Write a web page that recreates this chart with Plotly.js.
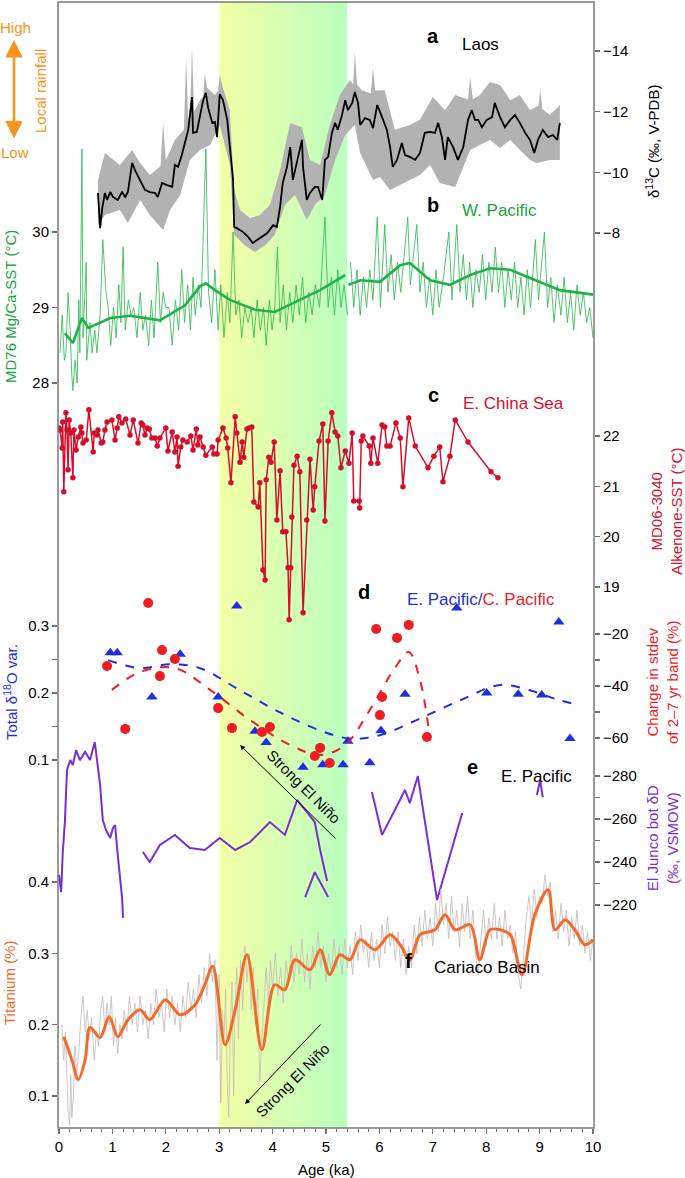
<!DOCTYPE html>
<html><head><meta charset="utf-8">
<script src="https://cdn.plot.ly/plotly-3.0.1.min.js"></script>
<style>html,body{margin:0;padding:0;background:#fff}#chart{width:685px;height:1178px}</style>
</head><body><div id="chart"></div>
<script>
// ---------- a: Laos d13C ----------
const laosAge = [0.73,0.77,0.81,0.86,0.90,0.96,1.01,1.10,1.18,1.24,1.29,1.37,1.42,1.52,1.61,1.70,1.80,1.85,1.93,2.02,2.12,2.17,2.23,2.30,2.36,2.42,2.49,2.51,2.58,2.64,2.70,2.75,2.79,2.87,2.92,2.96,3.01,3.07,3.15,3.20,3.26,3.28,3.33,3.45,3.54,3.63,3.71,3.80,3.90,4.01,4.08,4.14,4.19,4.27,4.33,4.38,4.46,4.55,4.57,4.64,4.70,4.79,4.85,4.93,4.98,5.04,5.11,5.17,5.22,5.30,5.36,5.41,5.49,5.54,5.60,5.64,5.73,5.82,5.88,5.96,6.05,6.14,6.20,6.25,6.33,6.42,6.48,6.57,6.67,6.76,6.85,6.95,7.04,7.10,7.17,7.23,7.28,7.38,7.47,7.57,7.66,7.73,7.79,7.85,7.92,8.01,8.11,8.16,8.26,8.35,8.45,8.54,8.63,8.73,8.82,8.90,8.97,9.06,9.16,9.25,9.33,9.38];
const laosD13C = [-9.32,-8.16,-8.82,-9.32,-9.09,-9.35,-9.19,-9.09,-9.35,-9.19,-9.35,-10.31,-10.08,-9.75,-9.42,-9.35,-9.32,-9.19,-9.65,-9.58,-9.52,-10.24,-10.18,-10.57,-10.97,-11.40,-12.48,-11.30,-11.33,-11.82,-12.38,-12.62,-12.15,-11.63,-11.66,-11.16,-12.58,-12.38,-11.73,-10.83,-9.75,-8.20,-8.16,-8.03,-7.87,-7.67,-7.77,-7.87,-8.00,-8.26,-8.20,-8.86,-9.65,-10.18,-10.83,-9.75,-10.41,-11.07,-10.18,-9.09,-9.32,-9.52,-9.52,-9.09,-10.41,-10.51,-11.30,-11.63,-11.40,-11.89,-12.38,-12.05,-12.29,-12.65,-12.29,-11.56,-11.79,-11.73,-11.46,-12.22,-11.82,-11.40,-10.83,-10.18,-10.41,-10.97,-10.57,-10.51,-10.41,-10.64,-11.30,-11.33,-11.30,-11.63,-11.16,-10.41,-11.16,-10.83,-10.41,-10.83,-11.73,-12.05,-11.73,-11.73,-11.49,-11.73,-11.82,-12.29,-11.82,-11.49,-11.73,-11.89,-11.63,-11.30,-11.07,-10.64,-11.07,-11.40,-11.16,-11.23,-11.07,-11.63];
const bandHiAge = [0.73,0.86,1.14,1.37,1.52,1.70,1.90,1.95,2.00,2.17,2.34,2.38,2.42,2.46,2.49,2.53,2.64,2.70,2.73,2.77,2.92,2.98,3.01,3.05,3.20,3.28,3.39,3.58,3.76,3.95,4.14,4.33,4.55,4.70,4.89,5.07,5.26,5.45,5.51,5.54,5.58,5.67,5.84,5.88,5.92,6.10,6.29,6.57,6.76,7.00,7.23,7.42,7.66,7.70,7.75,7.88,8.07,8.26,8.45,8.63,8.82,8.98,9.01,9.05,9.19,9.38];
const bandHi = [-9.75,-10.64,-10.24,-10.74,-10.31,-9.91,-10.2,-11.63,-10.4,-11.07,-11.4,-13.80,-11.7,-12.2,-14.13,-12.0,-12.38,-12.5,-13.27,-12.8,-12.55,-12.7,-13.21,-12.9,-12.05,-9.42,-8.76,-8.49,-8.59,-8.92,-10.08,-11.63,-11.49,-10.41,-10.24,-11.56,-12.55,-13.04,-12.9,-13.97,-12.9,-12.71,-12.6,-13.47,-12.7,-12.71,-11.40,-11.56,-11.73,-12.48,-12.05,-12.55,-12.4,-13.14,-12.4,-12.55,-12.98,-12.88,-12.38,-12.55,-12.05,-12.2,-12.71,-12.1,-11.89,-12.22];
const bandLoAge = [0.73,0.86,1.14,1.29,1.52,1.70,1.95,2.08,2.27,2.45,2.64,2.83,3.01,3.20,3.28,3.48,3.67,3.86,4.04,4.23,4.42,4.64,4.79,4.98,5.17,5.36,5.54,5.64,5.88,6.01,6.20,6.39,6.57,6.76,6.95,7.13,7.42,7.70,7.88,8.07,8.26,8.45,8.63,8.82,8.95,9.19,9.38];
const bandLo = [-8.26,-8.59,-8.76,-8.33,-9.09,-8.59,-8.10,-8.76,-9.25,-10.41,-10.74,-10.90,-11.56,-10.24,-7.93,-7.60,-7.37,-7.60,-7.93,-8.92,-9.25,-8.43,-8.92,-9.25,-10.41,-11.23,-11.56,-10.64,-9.75,-9.85,-9.42,-9.58,-9.75,-9.91,-10.24,-9.65,-9.52,-10.74,-10.90,-11.07,-10.80,-11.07,-10.74,-10.41,-10.31,-10.41,-10.41];

// ---------- b: W. Pacific MD76 Mg/Ca SST ----------
const wpRawAge = [0.02,0.06,0.10,0.13,0.17,0.21,0.24,0.26,0.30,0.34,0.37,0.39,0.43,0.45,0.51,0.52,0.58,0.62,0.67,0.71,0.77,0.82,0.88,0.92,0.97,1.02,1.07,1.12,1.16,1.20,1.24,1.30,1.35,1.40,1.46,1.52,1.57,1.62,1.68,1.73,1.78,1.85,1.90,1.95,2.00,2.06,2.12,2.18,2.24,2.30,2.35,2.41,2.46,2.51,2.55,2.61,2.66,2.75,2.80,2.86,2.92,2.98,3.03,3.09,3.15,3.20,3.26,3.31,3.37,3.42,3.48,3.54,3.60,3.65,3.71,3.77,3.83,3.88,3.94,3.99,4.04,4.09,4.14,4.20,4.26,4.32,4.38,4.44,4.50,4.56,4.62,4.68,4.74,4.80,4.88,4.98,5.04,5.10,5.16,5.22,5.28,5.34,5.40,null,5.46,5.52,5.58,5.64,5.70,5.76,5.82,5.88,5.96,6.02,6.10,6.16,6.22,6.28,6.34,6.40,6.53,6.58,6.70,6.76,6.82,6.88,6.94,7.00,7.06,7.12,7.20,7.30,7.36,7.45,7.51,7.57,7.63,7.69,7.75,7.81,7.87,7.93,7.99,8.05,8.11,8.17,8.23,8.29,8.35,8.41,8.47,8.53,8.59,8.65,8.71,8.77,8.83,8.92,8.98,9.09,9.15,9.21,9.27,9.33,9.40,9.46,9.52,9.58,9.64,9.70,9.76,9.82,9.88,9.94,10.0];
const wpRawSST = [28.4,28.9,28.3,28.4,29.2,28.7,28.1,27.9,28.3,28.0,29.1,28.4,31.1,28.6,29.6,28.3,28.8,28.4,28.7,28.4,28.9,29.9,29.2,29.0,28.5,29.0,28.6,29.3,28.8,29.8,28.7,29.1,28.9,29.0,28.6,29.2,28.7,28.9,28.5,29.1,28.6,29.6,28.8,29.2,29.0,29.0,28.5,29.1,28.7,29.5,28.8,29.3,28.7,29.4,28.9,29.3,29.0,31.1,29.2,28.8,29.5,28.7,29.3,28.6,29.2,28.8,30.0,28.9,29.1,28.6,29.0,28.8,29.0,28.6,29.1,28.7,29.0,28.5,29.1,28.7,29.0,29.8,28.8,29.3,28.7,29.2,28.8,29.3,28.9,29.4,28.8,29.2,28.9,29.3,29.0,30.2,29.0,29.4,28.9,29.5,29.0,29.3,28.9,null,29.6,29.0,29.5,28.9,29.4,29.0,29.5,29.1,30.2,29.0,30.1,29.2,29.7,29.1,29.6,29.2,30.2,29.3,30.1,29.2,29.6,29.0,29.4,28.9,29.5,29.0,29.4,30.0,29.1,30.1,29.2,29.7,29.1,29.6,29.0,29.5,29.2,29.7,29.1,29.6,29.2,29.8,29.2,29.6,29.0,29.5,29.1,29.6,29.0,29.4,28.9,29.5,29.0,29.9,29.1,30.0,29.0,29.4,28.8,29.3,28.9,29.4,28.8,29.2,28.7,29.3,28.9,29.2,28.8,29.0,28.6];
const wpSmAge = [0.11,0.26,0.43,0.55,0.96,1.33,1.89,2.36,2.64,2.75,2.92,3.20,3.67,4.04,4.51,4.89,5.36,null,5.42,5.64,6.01,6.39,6.57,6.95,7.32,7.70,8.07,8.45,8.82,9.38,10.0];
const wpSmSST = [28.66,28.53,28.86,28.73,28.86,28.89,28.83,29.03,29.28,29.32,29.23,29.10,28.97,28.94,29.10,29.23,29.43,null,29.30,29.36,29.34,29.56,29.59,29.36,29.30,29.43,29.52,29.50,29.39,29.23,29.17];

// ---------- c: E. China Sea MD06-3040 alkenone SST ----------
const ecsAge = [0.00,0.02,0.06,0.07,0.09,0.13,0.15,0.17,0.19,0.22,0.26,0.28,0.32,0.36,0.41,0.43,0.45,0.51,0.56,0.64,0.66,0.71,0.73,0.79,0.82,0.86,0.90,0.99,1.05,1.09,1.12,1.18,1.25,1.33,1.39,1.48,1.54,1.57,1.61,1.65,1.69,1.74,1.80,1.84,1.89,2.00,2.04,2.12,2.17,2.21,2.23,2.28,2.32,2.40,2.47,2.51,2.57,2.60,2.64,2.70,2.75,2.87,2.90,2.96,2.98,3.07,3.13,3.16,3.22,3.30,3.33,3.39,3.43,3.46,3.52,3.56,3.61,3.65,3.73,3.76,3.82,3.86,3.88,3.93,3.97,4.03,4.08,4.14,4.19,4.25,4.29,4.31,4.34,4.36,4.40,4.46,4.51,4.57,4.64,4.70,4.76,4.79,4.87,4.94,4.98,5.04,5.11,5.17,5.22,5.28,5.36,5.43,5.49,5.52,5.62,5.63,5.66,5.69,5.81,5.84,5.88,5.97,6.05,6.10,6.14,6.20,6.31,6.39,6.44,6.55,6.67,6.91,7.02,7.13,7.19,7.32,7.42,7.66,8.09,8.22];
const ecsSST = [22.16,22.12,21.76,22.28,20.89,22.46,22.12,21.33,22.32,22.06,21.17,22.12,21.72,21.98,22.18,22.06,21.86,21.92,22.52,21.68,22.06,22.02,22.12,21.86,21.88,22.12,22.28,22.32,21.92,22.16,22.38,22.26,22.34,22.02,22.32,21.86,22.26,22.22,22.02,22.16,22.14,21.96,21.96,21.80,21.96,22.16,21.70,22.08,21.68,21.98,21.40,21.78,21.92,21.88,22.00,21.72,22.14,21.82,21.98,21.78,21.62,21.78,21.64,21.64,21.92,22.16,21.96,21.76,21.07,22.38,22.06,21.48,21.88,21.58,22.14,22.16,22.18,20.69,20.59,21.07,19.34,19.14,21.13,21.58,21.48,21.88,20.33,21.31,20.10,20.10,19.38,18.35,19.38,20.39,21.42,21.60,21.29,18.49,20.33,21.54,20.53,20.99,21.90,22.24,20.31,21.90,22.46,22.08,22.00,21.37,21.70,21.46,22.06,20.71,20.71,20.57,21.90,22.00,21.80,21.46,21.96,21.46,22.22,22.18,21.80,21.80,22.26,21.96,20.99,22.36,21.80,21.37,21.60,21.78,21.09,21.60,22.32,21.88,21.29,21.17];

// ---------- d: ENSO variance ----------
const epAge = [0.96,1.09,1.74,2.27,2.98,3.33,3.67,3.88,4.57,4.94,5.32,5.41,5.82,6.03,6.48,7.45,8.01,8.60,9.04,9.36,9.57];
const epVar = [0.260,0.260,0.194,0.258,0.194,0.330,0.143,0.126,0.089,0.093,0.093,0.128,0.096,0.144,0.198,0.327,0.200,0.198,0.197,0.306,0.132];
const cpAge = [0.90,1.24,1.67,1.89,1.93,2.17,2.98,3.24,3.80,3.95,4.79,4.89,5.07,5.94,6.05,6.01,6.33,6.55,6.89];
const cpChange = [-32.3,-56.5,-8.1,-36.2,-26.2,-29.6,-48.5,-56.2,-57.7,-55.8,-66.9,-63.8,-69.6,-18.1,-44.2,-51.2,-21.5,-16.5,-59.6];
const epFitAge = [0.92,1.52,2.08,2.64,3.39,4.14,4.89,5.45,6.01,6.76,7.51,8.26,8.82,9.38,9.76];
const epFit = [0.249,0.237,0.243,0.237,0.204,0.171,0.144,0.132,0.137,0.162,0.189,0.212,0.204,0.189,0.182];
const cpFitAge = [0.99,1.52,2.17,2.83,3.58,4.33,4.89,5.36,5.82,6.29,6.55,6.76,6.95];
const cpFit = [-41.5,-34.6,-33.1,-41.5,-53.1,-62.7,-66.5,-62.7,-49.2,-33.1,-26.9,-37.7,-60.8];

// ---------- e: El Junco botryococcene dD ----------
const ejAge = [0.00,0.04,0.07,0.11,0.15,0.21,0.26,0.32,0.39,0.49,0.58,0.67,0.77,0.82,0.88,0.96,1.01,1.05,1.10,1.18,1.20,null,1.57,1.70,1.89,2.17,2.45,2.73,3.01,3.30,3.58,3.95,4.23,4.46,4.64,4.79,4.89,5.02,null,4.61,4.79,5.04,null,5.86,6.05,6.29,6.48,6.57,6.72,7.08,7.55,null,8.95,9.01,9.06];
const ejDD = [-234.0,-226.0,-244.2,-258.6,-282.8,-287.4,-285.1,-292.1,-287.4,-291.2,-287.4,-295.8,-275.8,-259.5,-254.9,-251.2,-255.8,-257.2,-243.3,-223.7,-214.0,null,-244.7,-240.0,-247.9,-252.6,-246.5,-245.6,-251.2,-245.6,-249.3,-258.6,-252.6,-268.8,-263.3,-258.6,-245.6,-231.2,null,-223.7,-235.3,-223.7,null,-272.6,-252.6,-264.2,-273.5,-267.4,-280.0,-222.3,-262.8,null,-271.2,-278.1,-270.2];

// ---------- f: Cariaco Basin titanium ----------
const tiRawAge = [0.05,0.09,0.12,0.15,0.17,0.20,0.22,0.24,0.27,0.30,0.33,0.37,0.41,0.45,0.49,0.53,0.57,0.61,0.66,0.70,0.74,0.78,0.82,0.86,0.90,0.94,0.98,1.02,1.06,1.10,1.14,1.18,1.22,1.27,1.32,1.37,1.42,1.47,1.52,1.57,1.62,1.67,1.72,1.77,1.82,1.87,1.92,1.97,2.02,2.07,2.12,2.17,2.22,2.27,2.32,2.37,2.42,2.47,2.52,2.57,2.62,2.67,2.72,2.77,2.82,2.87,2.92,2.96,3.00,3.03,3.06,3.09,3.12,3.15,3.18,3.21,3.24,3.27,3.30,3.33,3.36,3.40,3.44,3.48,3.52,3.56,3.60,3.64,3.68,3.72,3.76,3.80,3.84,3.88,3.92,3.96,4.00,4.05,4.10,4.15,4.20,4.25,4.30,4.35,4.40,4.45,4.50,4.55,4.60,4.65,4.70,4.75,4.80,4.85,4.90,4.95,5.00,5.05,5.10,5.15,5.20,5.25,5.30,5.35,5.40,5.45,5.50,5.55,5.60,5.65,5.70,5.75,5.80,5.85,5.90,5.95,6.00,6.05,6.10,6.15,6.20,6.25,6.30,6.35,6.40,6.45,6.50,6.55,6.60,6.65,6.70,6.75,6.80,6.85,6.90,6.95,7.00,7.05,7.10,7.15,7.20,7.25,7.30,7.35,7.40,7.45,7.50,7.55,7.60,7.65,7.70,7.75,7.80,7.85,7.90,7.95,8.00,8.05,8.10,8.15,8.20,8.25,8.30,8.35,8.40,8.45,8.50,8.55,8.60,8.65,8.70,8.75,8.80,8.85,8.90,8.95,9.00,9.05,9.10,9.15,9.20,9.25,9.30,9.35,9.40,9.45,9.50,9.55,9.60,9.65,9.70,9.75,9.80,9.85,9.90,9.95,10.0];
const tiRaw = [0.20,0.15,0.19,0.13,0.08,0.06,0.13,0.07,0.10,0.17,0.13,0.16,0.21,0.24,0.19,0.22,0.18,0.21,0.15,0.19,0.17,0.22,0.24,0.19,0.23,0.20,0.24,0.17,0.21,0.16,0.20,0.18,0.22,0.19,0.24,0.20,0.23,0.19,0.24,0.20,0.22,0.18,0.23,0.20,0.25,0.21,0.23,0.19,0.25,0.21,0.24,0.20,0.23,0.19,0.24,0.21,0.26,0.22,0.25,0.21,0.27,0.23,0.28,0.24,0.30,0.26,0.29,0.15,0.27,0.09,0.22,0.18,0.25,0.12,0.07,0.20,0.26,0.10,0.23,0.28,0.18,0.29,0.22,0.31,0.26,0.30,0.22,0.28,0.20,0.25,0.12,0.18,0.24,0.28,0.23,0.29,0.25,0.30,0.24,0.28,0.23,0.29,0.26,0.31,0.26,0.30,0.27,0.32,0.26,0.30,0.25,0.31,0.28,0.33,0.28,0.31,0.26,0.30,0.27,0.32,0.28,0.31,0.27,0.32,0.28,0.31,0.27,0.33,0.29,0.34,0.30,0.32,0.28,0.33,0.29,0.32,0.28,0.34,0.30,0.35,0.31,0.33,0.29,0.33,0.28,0.32,0.27,0.31,0.28,0.34,0.30,0.35,0.31,0.36,0.32,0.35,0.31,0.37,0.33,0.39,0.34,0.37,0.32,0.38,0.33,0.36,0.31,0.37,0.33,0.38,0.32,0.36,0.30,0.27,0.32,0.36,0.31,0.35,0.32,0.37,0.32,0.35,0.31,0.36,0.32,0.34,0.30,0.33,0.27,0.25,0.30,0.35,0.38,0.34,0.39,0.35,0.38,0.37,0.41,0.38,0.40,0.33,0.36,0.32,0.37,0.33,0.36,0.31,0.35,0.32,0.36,0.31,0.34,0.30,0.33,0.29,0.32];
const tiSmAge = [0.09,0.24,0.36,0.49,0.58,0.77,0.94,1.10,1.29,1.52,1.70,1.99,2.27,2.55,2.73,2.88,3.11,3.30,3.52,3.80,4.04,4.23,4.42,4.70,4.89,5.07,5.26,5.45,5.64,5.92,6.20,6.39,6.57,6.76,7.04,7.23,7.42,7.70,7.88,8.07,8.26,8.45,8.67,8.91,9.16,9.29,9.48,9.66,9.85,10.0];
const tiSm = [0.183,0.151,0.123,0.151,0.196,0.182,0.211,0.183,0.207,0.221,0.207,0.235,0.214,0.228,0.256,0.282,0.172,0.221,0.298,0.165,0.256,0.249,0.291,0.277,0.305,0.270,0.298,0.291,0.319,0.305,0.326,0.312,0.291,0.326,0.333,0.354,0.333,0.340,0.291,0.333,0.333,0.326,0.270,0.354,0.389,0.333,0.347,0.333,0.312,0.319];

// ---------- shaded interval ----------
const shadeStart = 3.0, shadeEnd = 5.4;

// ================= drawing =================
const FONT = 'Liberation Sans, Arial, Helvetica, sans-serif';
const W = 685, H = 1178, L = 58, R = 91, T = 2, B = 50;
const PW = W - L - R, PH = H - T - B;
const px = x => (x - L) / PW;
const py = y => (H - B - y) / PH;

const traces = [];
traces.push({x: bandHiAge.concat(bandLoAge.slice().reverse()), y: bandHi.concat(bandLo.slice().reverse()),
  yaxis:'y', fill:'toself', fillcolor:'#b2b2b2', line:{width:0}, mode:'lines', hoverinfo:'skip'});
traces.push({x: laosAge, y: laosD13C, yaxis:'y', mode:'lines', line:{color:'#000', width:1.8}});
traces.push({x: wpRawAge, y: wpRawSST, yaxis:'y2', mode:'lines', connectgaps:false, line:{color:'#33bb55', width:0.85}});
traces.push({x: wpSmAge, y: wpSmSST, yaxis:'y2', mode:'lines', connectgaps:false, line:{color:'#22b04b', width:2.6}});
traces.push({x: ecsAge, y: ecsSST, yaxis:'y3', mode:'lines+markers', line:{color:'#d2102c', width:1.5}, marker:{color:'#d2102c', size:5.5}});
traces.push({x: epFitAge, y: epFit, yaxis:'y4', mode:'lines', line:{color:'#1f2fe0', width:2, dash:'dash', shape:'spline'}});
traces.push({x: cpFitAge, y: cpFit, yaxis:'y5', mode:'lines', line:{color:'#f01c24', width:2, dash:'dash', shape:'spline'}});
traces.push({x: epAge, y: epVar, yaxis:'y4', mode:'markers', marker:{symbol:'triangle-up', color:'#1f2fe0', size:10}});
traces.push({x: cpAge, y: cpChange, yaxis:'y5', mode:'markers', marker:{symbol:'circle', color:'#f01c24', size:10}});
traces.push({x: ejAge, y: ejDD, yaxis:'y6', mode:'lines', connectgaps:false, line:{color:'#7a2fd0', width:2}});
traces.push({x: tiRawAge, y: tiRaw, yaxis:'y7', mode:'lines', line:{color:'#c8bfbf', width:0.9}});
traces.push({x: tiSmAge, y: tiSm, yaxis:'y7', mode:'lines', line:{color:'#f26a2c', width:3, shape:'spline', smoothing:0.9}});

function rangeFor(v1, p1, v2, p2) {
  const k = (v2 - v1) / (p2 - p1);
  return [v1 + (H - B - p1) * k, v1 + (T - p1) * k];
}
const tickFont = {family: FONT, size: 15, color: '#000'};
function yax(side, range, vals, text, extra) {
  return Object.assign({side, range, tickmode:'array', tickvals: vals, ticktext: text, ticks:'outside', ticklen:5,
    tickcolor:'#707070', tickwidth:1.2, showline:false, showgrid:false, zeroline:false, fixedrange:true,
    tickfont: tickFont, anchor:'x'}, extra || {});
}
const layout = {
  width: W, height: H, margin:{l:L, r:R, t:T, b:B, pad:0},
  paper_bgcolor:'#fff', plot_bgcolor:'rgba(0,0,0,0)', showlegend:false,
  font:{family: FONT, size:15, color:'#000'},
  xaxis:{range:[(L-59)/53.4, (W-R-59)/53.4], tickmode:'array', tickvals:[0,1,2,3,4,5,6,7,8,9,10], ticks:'outside', ticklen:5,
    tickcolor:'#707070', tickwidth:1.2, showline:false, showgrid:false, zeroline:false, fixedrange:true, tickfont: tickFont,
    minor:{tickmode:'linear', tick0:0, dtick:0.2, ticks:'outside', ticklen:3, tickcolor:'#707070', tickwidth:1}},
  yaxis: yax('right', rangeFor(-14, 51, -8, 233), [-14,-12,-10,-8], ['−14','−12','−10','−8']),
  yaxis2: yax('left', rangeFor(30, 232, 28, 383), [28,29,30], ['28','29','30'], {overlaying:'y'}),
  yaxis3: yax('right', rangeFor(22, 436, 19, 587), [19,20,21,22], ['19','20','21','22'], {overlaying:'y'}),
  yaxis4: yax('left', rangeFor(0.3, 626, 0.1, 760), [0.1,0.15,0.2,0.25,0.3], ['0.1','','0.2','','0.3'], {overlaying:'y'}),
  yaxis5: yax('right', rangeFor(-20, 634, -60, 738), [-60,-50,-40,-30,-20], ['−60','','−40','','−20'], {overlaying:'y'}),
  yaxis6: yax('right', rangeFor(-280, 776, -220, 905), [-280,-270,-260,-250,-240,-230,-220], ['−280','','−260','','−240','','−220'], {overlaying:'y'}),
  yaxis7: yax('left', rangeFor(0.4, 882, 0.1, 1096), [0.1,0.2,0.3,0.4], ['0.1','0.2','0.3','0.4'], {overlaying:'y'}),
  shapes: [], annotations: []
};

const c0 = [244,255,166], c1 = [186,255,192], N = 60;
for (let i = 0; i < N; i++) {
  const t = i / (N - 1);
  const c = c0.map((v, j) => Math.round(v + (c1[j] - v) * t));
  const w = (shadeEnd - shadeStart) / N;
  layout.shapes.push({type:'rect', xref:'x', yref:'paper', x0: shadeStart + i*w, x1: shadeStart + (i+1)*w + (i < N-1 ? w*0.3 : 0), y0:0, y1:1,
    fillcolor:`rgb(${c})`, line:{width:0}, layer:'below'});
}
layout.shapes.push({type:'rect', xref:'paper', yref:'paper', x0:0, x1:1, y0:0, y1:1, line:{color:'#7a7a7a', width:1.5}, layer:'above'});

function A(text, x, y, o) {
  layout.annotations.push(Object.assign({text, xref:'paper', yref:'paper', x: px(x), y: py(y), showarrow:false,
    xanchor:'center', yanchor:'middle', font:{family: FONT, size:15, color:'#000'}}, o || {}));
}
const ORANGE = '#f7941d';
A('High', 15, 27, {font:{family:FONT, size:15, color:ORANGE}});
A('Low', 15, 153, {font:{family:FONT, size:15, color:ORANGE}});
A('Local rainfall', 41, 91, {textangle:-90, font:{family:FONT, size:15, color:ORANGE}});
layout.annotations.push({text:'', xref:'paper', yref:'paper', x: px(14), y: py(40), ax:0, ay:100, showarrow:true,
  arrowside:'end+start', arrowhead:2, arrowsize:1.35, arrowwidth:2.6, arrowcolor:ORANGE});

A('<b>a</b>', 433, 36, {font:{family:FONT, size:20}});
A('Laos', 460, 44, {xanchor:'left', font:{family:FONT, size:17}});
A('<b>b</b>', 433, 205, {font:{family:FONT, size:20}});
A('W. Pacific', 460, 211, {xanchor:'left', font:{family:FONT, size:17, color:'#1aa53f'}});
A('<b>c</b>', 433, 395, {font:{family:FONT, size:20}});
A('E. China Sea', 461, 403, {xanchor:'left', font:{family:FONT, size:17, color:'#d2102c'}});
A('<b>d</b>', 364, 592, {font:{family:FONT, size:20}});
A('E. Pacific/<span style="color:#f01c24">C. Pacific</span>', 405, 599, {xanchor:'left', font:{family:FONT, size:17, color:'#1f2fe0'}});
A('<b>e</b>', 472, 767, {font:{family:FONT, size:20}});
A('E. Pacific', 499, 776, {xanchor:'left', font:{family:FONT, size:17}});
A('<b>f</b>', 408, 961, {font:{family:FONT, size:20}});
A('Cariaco Basin', 432, 967, {xanchor:'left', font:{family:FONT, size:17}});

A('δ<sup>13</sup>C (‰, V-PDB)', 653, 142, {textangle:-90});
A('MD76 Mg/Ca-SST (°C)', 10, 307, {textangle:-90, font:{family:FONT, size:15, color:'#1aa53f'}});
A('MD06-3040<br>Alkenone-SST (°C)', 666, 512, {textangle:-90, font:{family:FONT, size:15, color:'#d2102c'}});
A('Total δ<sup>18</sup>O var.', 10, 692, {textangle:-90, font:{family:FONT, size:15, color:'#1f2fe0'}});
A('Change in stdev<br>of 2–7 yr band (%)', 662, 683, {textangle:-90, font:{family:FONT, size:15, color:'#f01c24'}});
A('El Junco bot δD<br>(‰, VSMOW)', 662, 838, {textangle:-90, font:{family:FONT, size:15, color:'#7a2fd0'}});
A('Titanium (%)', 9, 983, {textangle:-90, font:{family:FONT, size:15, color:'#f26a2c'}});
A('Age (ka)', 326, 1169);

layout.annotations.push({text:'', xref:'paper', yref:'paper', x: px(240), y: py(745), ax:97, ay:95, showarrow:true,
  arrowhead:2, arrowsize:1, arrowwidth:1, arrowcolor:'#000'});
A('Strong El Niño', 304, 786, {textangle:45});
layout.annotations.push({text:'', xref:'paper', yref:'paper', x: px(245), y: py(1104), ax:77, ay:-81, showarrow:true,
  arrowhead:2, arrowsize:1, arrowwidth:1, arrowcolor:'#000'});
A('Strong El Niño', 292, 1080, {textangle:-45});

Plotly.newPlot('chart', traces, layout, {staticPlot:true, displayModeBar:false});
</script></body></html>
